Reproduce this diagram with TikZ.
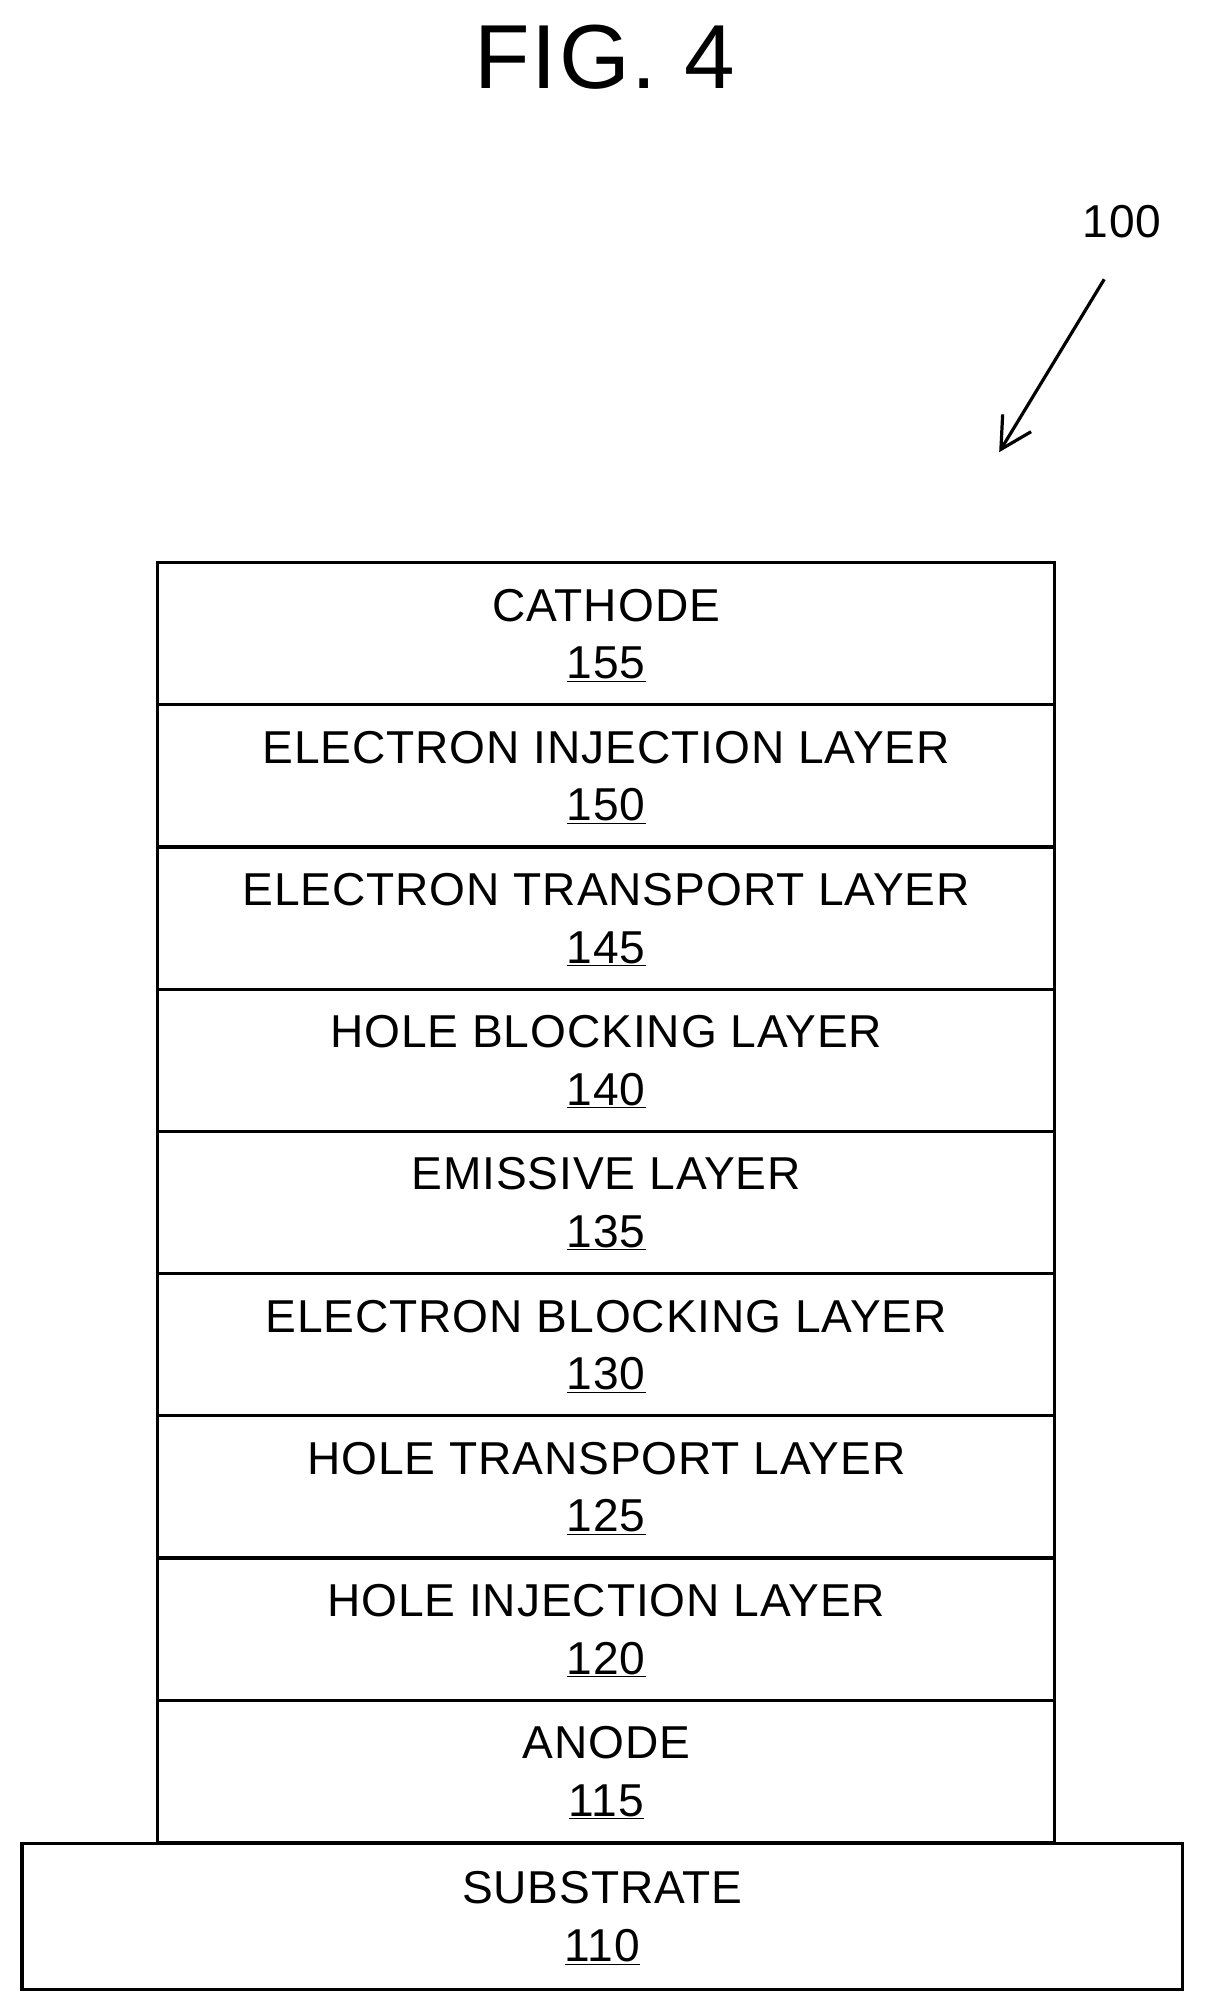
\documentclass[tikz,border=0pt]{standalone}
\usepackage{fontspec}
\setmainfont{Liberation Sans}[LetterSpace=2]
\usetikzlibrary{arrows.meta}
\begin{document}
\begin{tikzpicture}[x=1pt,y=-1pt,
  layer/.style={draw,line width=2.5pt,minimum width=700pt,minimum height=111pt,inner sep=0pt,align=center,font=\fontsize{36}{45}\selectfont,anchor=north west,
    text depth=0pt},
  sub/.style={layer,minimum width=906pt,minimum height=114pt}]
\useasboundingbox (0,0) rectangle (942,1573);
\node[font=\fontsize{71}{80}\selectfont] (title) at (472,45) {FIG. 4};
\node[font=\fontsize{36}{40}\selectfont] (lbl) at (876,173) {100};
\coordinate (a0) at (862,218);
\coordinate (a1) at (780,353);
\draw[line width=2.5pt,-{Straight Barb[length=24pt,width=26pt]}] (a0) -- (a1);
\node[layer] (l155) at (122,438) {CATHODE\\\underline{155}};
\node[layer] (l150) at (122,549) {ELECTRON INJECTION LAYER\\\underline{150}};
\node[layer] (l145) at (122,660) {ELECTRON TRANSPORT LAYER\\\underline{145}};
\node[layer] (l140) at (122,771) {HOLE BLOCKING LAYER\\\underline{140}};
\node[layer] (l135) at (122,882) {EMISSIVE LAYER\\\underline{135}};
\node[layer] (l130) at (122,993) {ELECTRON BLOCKING LAYER\\\underline{130}};
\node[layer] (l125) at (122,1104) {HOLE TRANSPORT LAYER\\\underline{125}};
\node[layer] (l120) at (122,1215) {HOLE INJECTION LAYER\\\underline{120}};
\node[layer] (l115) at (122,1326) {ANODE\\\underline{115}};
\node[sub] (l110) at (16,1438) {SUBSTRATE\\\underline{110}};
\end{tikzpicture}
\end{document}
